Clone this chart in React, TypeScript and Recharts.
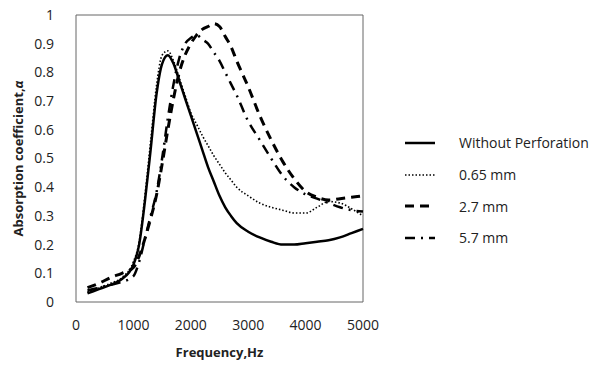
import { LineChart, Line, XAxis, YAxis, ReferenceArea } from "recharts";

const freqs = [200, 400, 600, 800, 1000, 1100, 1200, 1300, 1400, 1500, 1600, 1700, 1800, 1900, 2000, 2100, 2200, 2300, 2400, 2500, 2600, 2700, 2800, 3000, 3200, 3400, 3600, 3800, 4000, 4200, 4400, 4600, 4800, 5000];

const without = [0.03, 0.045, 0.06, 0.08, 0.13, 0.2, 0.35, 0.53, 0.72, 0.83, 0.86, 0.83, 0.77, 0.71, 0.65, 0.59, 0.53, 0.47, 0.42, 0.37, 0.33, 0.3, 0.275, 0.245, 0.225, 0.21, 0.2, 0.2, 0.205, 0.21, 0.215, 0.225, 0.24, 0.255];
const mm065 = [0.035, 0.05, 0.065, 0.085, 0.14, 0.21, 0.37, 0.56, 0.75, 0.86, 0.875, 0.84, 0.78, 0.72, 0.66, 0.62, 0.58, 0.545, 0.51, 0.48, 0.45, 0.425, 0.4, 0.37, 0.345, 0.33, 0.32, 0.31, 0.31, 0.33, 0.35, 0.345, 0.325, 0.3];
const mm27 = [0.05, 0.065, 0.085, 0.1, 0.12, 0.16, 0.22, 0.29, 0.37, 0.48, 0.6, 0.71, 0.8, 0.86, 0.9, 0.93, 0.95, 0.96, 0.97, 0.96, 0.925, 0.89, 0.84, 0.75, 0.65, 0.565, 0.49, 0.43, 0.385, 0.365, 0.355, 0.36, 0.365, 0.37];
const mm57 = [0.04, 0.05, 0.06, 0.07, 0.09, 0.14, 0.22, 0.3, 0.38, 0.5, 0.64, 0.76, 0.85, 0.9, 0.92, 0.93, 0.915, 0.9, 0.87, 0.84, 0.8, 0.76, 0.72, 0.63, 0.565, 0.5, 0.44, 0.4, 0.375, 0.36, 0.345, 0.33, 0.32, 0.315];

const xTicks = [0, 1000, 2000, 3000, 4000, 5000];
const yTicks = [0, 0.1, 0.2, 0.3, 0.4, 0.5, 0.6, 0.7, 0.8, 0.9, 1];

const series = [
  { key: "without", name: "Without Perforation", width: 2.5, dash: undefined },
  { key: "mm065", name: "0.65 mm", width: 1.6, dash: "1.5 2" },
  { key: "mm27", name: "2.7 mm", width: 3, dash: "9 6" },
  { key: "mm57", name: "5.7 mm", width: 2.5, dash: "10 6 2 6" },
];

const data = freqs.map((f, i) => ({
  f,
  without: without[i],
  mm065: mm065[i],
  mm27: mm27[i],
  mm57: mm57[i],
}));

const font = "'Open Sans', sans-serif";

const LegendBox = () => (
  <div style={{ position: "absolute", left: 405, top: 127, fontFamily: font, fontSize: 14, color: "#222" }}>
    {series.map((s) => (
      <div key={s.key} style={{ display: "flex", alignItems: "center", height: 31.7 }}>
        <svg width={54} height={10}>
          <line x1={0} y1={5} x2={30} y2={5} stroke="#000" strokeWidth={s.width} strokeDasharray={s.dash} />
        </svg>
        <span>{s.name}</span>
      </div>
    ))}
  </div>
);

const YLabel = ({ viewBox }: any) => {
  const cx = 20;
  const cy = viewBox.y + viewBox.height / 2;
  return (
    <text x={cx} y={cy} transform={`rotate(-90 ${cx} ${cy})`} textAnchor="middle" dominantBaseline="middle"
      fontFamily={font} fontSize={13} fontWeight="bold" fill="#222">
      Absorption coefficient,<tspan fontStyle="italic">α</tspan>
    </text>
  );
};

export default function App() {
  return (
    <div style={{ position: "absolute", left: 0, top: 0, width: 614, height: 368, background: "#fff" }}>
      <LineChart width={614} height={368} data={data} margin={{ top: 15, right: 251, bottom: 36, left: 16 }}>
        <XAxis
          dataKey="f"
          type="number"
          domain={[0, 5000]}
          ticks={xTicks}
          tickLine={false}
          axisLine={false}
          height={30}
          tick={{ fontFamily: font, fontSize: 14, fill: "#222" }}
          tickMargin={12}
          label={{ value: "Frequency,Hz", position: "insideBottom", offset: -25, fontFamily: font, fontSize: 13, fontWeight: "bold", fill: "#222" }}
        />
        <YAxis
          type="number"
          domain={[0, 1]}
          ticks={yTicks}
          tickLine={false}
          axisLine={false}
          width={60}
          interval={0}
          tick={{ fontFamily: font, fontSize: 14, fill: "#222" }}
          tickMargin={16}
          label={<YLabel />}
        />
        <ReferenceArea x1={0} x2={5000} y1={0} y2={1} fill="none" stroke="#666" strokeWidth={1} ifOverflow="extendDomain" />
        {series.map((s) => (
          <Line
            key={s.key}
            dataKey={s.key}
            name={s.name}
            type="monotone"
            stroke="#000"
            strokeWidth={s.width}
            strokeDasharray={s.dash}
            dot={false}
            activeDot={false}
            isAnimationActive={false}
          />
        ))}
      </LineChart>
      <LegendBox />
    </div>
  );
}
